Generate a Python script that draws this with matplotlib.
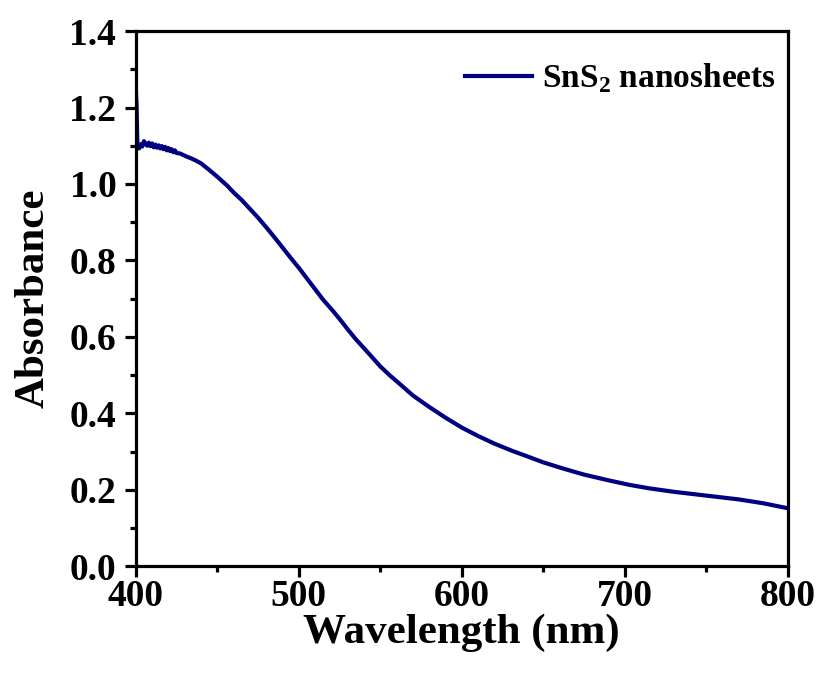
import numpy as np
import matplotlib
matplotlib.use('Agg')
import matplotlib.pyplot as plt
from matplotlib.ticker import MultipleLocator

plt.rcParams['font.family'] = 'Liberation Serif'
plt.rcParams['font.weight'] = 'bold'
plt.rcParams['mathtext.fontset'] = 'custom'
plt.rcParams['mathtext.rm'] = 'Liberation Serif:bold'
plt.rcParams['mathtext.bf'] = 'Liberation Serif:bold'

# wavelength (nm) and absorbance
wavelength = [400, 400.5, 401, 402, 403, 404, 405, 406, 407, 408, 409, 410, 411,
              412, 413, 414, 415, 416, 417, 418, 419, 420, 421, 422, 423, 424,
              425, 427, 429, 431, 434, 437, 440, 445, 450, 456, 460, 465, 470,
              475, 480, 485, 490, 495, 500, 505, 510, 515, 521, 526, 530, 535,
              541, 545, 550, 556, 562, 570, 580, 590, 600, 610, 620, 631, 640,
              650, 662, 675, 690, 703, 715, 730, 750, 770, 785, 800]
absorbance = [1.25, 1.20, 1.10, 1.093, 1.104, 1.098, 1.112, 1.105, 1.100, 1.108,
              1.099, 1.106, 1.096, 1.103, 1.095, 1.101, 1.093, 1.099, 1.091, 1.097,
              1.088, 1.094, 1.086, 1.091, 1.083, 1.088, 1.081, 1.080, 1.076, 1.072,
              1.067, 1.061, 1.054, 1.037, 1.019, 0.996, 0.978, 0.958, 0.935, 0.912,
              0.887, 0.861, 0.834, 0.807, 0.781, 0.753, 0.725, 0.697, 0.668, 0.642,
              0.620, 0.594, 0.566, 0.547, 0.523, 0.499, 0.477, 0.447, 0.417, 0.389,
              0.363, 0.341, 0.321, 0.302, 0.288, 0.272, 0.256, 0.240, 0.225, 0.213,
              0.204, 0.195, 0.185, 0.175, 0.165, 0.152]

fig = plt.figure(figsize=(8.23, 6.75), dpi=100)
ax = fig.add_axes([0.165, 0.161, 0.792, 0.793])

ax.plot(wavelength, absorbance, color='#000080', lw=3.0, label='SnS$_2$ nanosheets')

ax.set_xlim(400, 800)
ax.set_ylim(0, 1.4)
ax.xaxis.set_major_locator(MultipleLocator(100))
ax.xaxis.set_minor_locator(MultipleLocator(50))
ax.yaxis.set_major_locator(MultipleLocator(0.2))
ax.yaxis.set_minor_locator(MultipleLocator(0.1))
ax.yaxis.set_major_formatter(plt.FormatStrFormatter('%.1f'))

for s in ax.spines.values():
    s.set_linewidth(2.3)
ax.tick_params(which='major', direction='out', length=8, width=2.3, labelsize=27)
ax.tick_params(which='minor', direction='out', length=4.5, width=2.3)
ax.tick_params(axis='y', which='major', pad=6)
ax.tick_params(axis='x', which='major', pad=1)

ax.set_xlabel('Wavelength (nm)', fontsize=31, fontweight='bold', labelpad=0)
ax.set_ylabel('Absorbance', fontsize=31, fontweight='bold', labelpad=12)

ax.legend(loc='upper right', bbox_to_anchor=(1.018, 0.987), frameon=False,
          fontsize=24, handlelength=2.0, handletextpad=0.3, borderaxespad=0.3)

fig.savefig('out.png', dpi=100)
